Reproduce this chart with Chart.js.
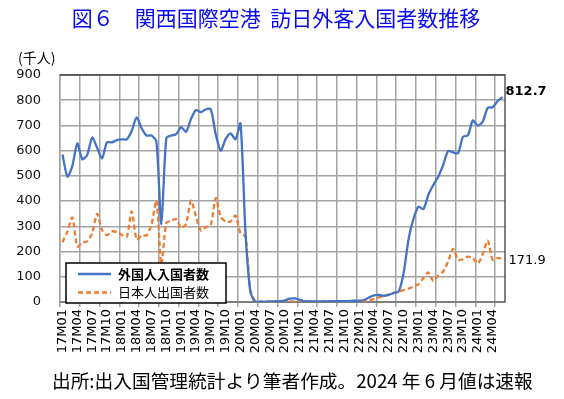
<!DOCTYPE html>
<html>
<head>
<meta charset="utf-8">
<script src="https://cdn.jsdelivr.net/npm/chart.js@4.4.1/dist/chart.umd.min.js"></script>
<style>
  html, body { margin: 0; padding: 0; background: #fff; }
</style>
</head>
<body>
<canvas id="kix" width="564" height="399"></canvas>
<script>
// --- data (thousand persons, monthly) ---
const months = [
  '17M01','17M02','17M03','17M04','17M05','17M06','17M07','17M08','17M09','17M10','17M11','17M12',
  '18M01','18M02','18M03','18M04','18M05','18M06','18M07','18M08','18M09','18M10','18M11','18M12',
  '19M01','19M02','19M03','19M04','19M05','19M06','19M07','19M08','19M09','19M10','19M11','19M12',
  '20M01','20M02','20M03','20M04','20M05','20M06','20M07','20M08','20M09','20M10','20M11','20M12',
  '21M01','21M02','21M03','21M04','21M05','21M06','21M07','21M08','21M09','21M10','21M11','21M12',
  '22M01','22M02','22M03','22M04','22M05','22M06','22M07','22M08','22M09','22M10','22M11','22M12',
  '23M01','23M02','23M03','23M04','23M05','23M06','23M07','23M08','23M09','23M10','23M11','23M12',
  '24M01','24M02','24M03','24M04','24M05','24M06'
];
const foreignArrivals = [
  585, 497, 540, 629, 566, 583, 652, 612, 570, 633, 633, 642,
  645, 645, 678, 732, 689, 660, 660, 636, 310, 649, 660, 666,
  693, 675, 726, 761, 753, 764, 764, 665, 600, 646, 668, 645,
  708, 280, 40, 1, 1, 1, 2, 2, 3, 6, 13, 14,
  8, 3, 2, 2, 2, 2, 3, 3, 3, 3, 4, 5,
  5, 8, 18, 26, 28, 24, 28, 36, 42, 115, 250, 330,
  378, 368, 425, 464, 497, 544, 599, 593, 590, 655, 661, 720,
  699, 715, 770, 772, 796, 812.7
];
const japaneseDepartures = [
  237, 280, 335, 220, 236, 240, 273, 350, 286, 265, 280, 277,
  266, 258, 359, 247, 264, 264, 306, 402, 150, 313, 323, 328,
  293, 310, 402, 339, 283, 297, 306, 412, 339, 319, 319, 343,
  273, 260, 50, 1, 1, 1, 1, 2, 2, 2, 2, 2,
  2, 1, 1, 1, 2, 2, 2, 2, 2, 2, 2, 2,
  2, 3, 6, 12, 18, 25, 30, 36, 42, 47, 53, 61,
  71, 95, 117, 84, 105, 121, 161, 211, 167, 170, 180, 174,
  152, 190, 243, 167, 174, 171.9
];
const seriesNames = ['外国人入国者数', '日本人出国者数'];
const chartTitle = '図６　関西国際空港  訪日外客入国者数推移';
const unitLabel = '(千人)';
const sourceNote = '出所:出入国管理統計より筆者作成。2024 年 6 月値は速報';

const BLUE = '#4472C4';
const ORANGE = '#ED7D31';
const GRID = '#a3a3a3';
const NUM_FONT = 'DejaVu Sans';
const JP_FONT = '"Noto Sans CJK JP"';

// title, unit, legend box, end labels, frame
const decor = {
  id: 'decor',
  afterDatasetsDraw(chart) {
    const { ctx, chartArea: a } = chart;
    ctx.save();
    // top / right frame
    ctx.strokeStyle = '#404040';
    ctx.lineWidth = 1.3;
    ctx.beginPath();
    ctx.moveTo(a.left, a.top);
    ctx.lineTo(a.right, a.top);
    ctx.lineTo(a.right, a.bottom);
    ctx.stroke();

    // legend inside plot
    const bx = a.left + 6, by = a.bottom - 39, bw = 160, bh = 40;
    ctx.fillStyle = '#fff';
    ctx.fillRect(bx, by, bw, bh);
    ctx.strokeStyle = '#000';
    ctx.lineWidth = 1.5;
    ctx.strokeRect(bx, by, bw, bh);
    chart.data.datasets.forEach((ds, i) => {
      const y = by + 11 + i * 18.5;
      ctx.strokeStyle = ds.borderColor;
      ctx.lineWidth = ds.borderWidth;
      ctx.setLineDash(ds.borderDash || []);
      ctx.beginPath();
      ctx.moveTo(bx + 12, y);
      ctx.lineTo(bx + 45, y);
      ctx.stroke();
      ctx.setLineDash([]);
      ctx.fillStyle = '#000';
      ctx.font = (i === 0 ? 'bold ' : '') + '13px ' + JP_FONT;
      ctx.textBaseline = 'middle';
      ctx.textAlign = 'left';
      ctx.fillText(ds.label, bx + 52, y);
    });

    // last-value labels
    chart.data.datasets.forEach((ds, i) => {
      const meta = chart.getDatasetMeta(i);
      const pt = meta.data[meta.data.length - 1];
      const v = ds.data[ds.data.length - 1];
      ctx.fillStyle = '#000';
      ctx.font = (i === 0 ? 'bold ' : '') + '13px ' + NUM_FONT;
      ctx.textAlign = 'left';
      ctx.textBaseline = 'middle';
      ctx.fillText(v.toFixed(1), pt.x + (i === 0 ? 3 : 6), pt.y + (i === 0 ? -5 : 2));
    });
    ctx.restore();
  },
  afterDraw(chart) {
    const { ctx } = chart;
    ctx.save();
    ctx.textBaseline = 'middle';
    ctx.fillStyle = '#0a0af0';
    ctx.font = '21px ' + JP_FONT;
    ctx.textAlign = 'center';
    ctx.fillText(chartTitle, 276, 18);
    ctx.fillStyle = '#000';
    ctx.font = '14px ' + JP_FONT;
    ctx.textAlign = 'left';
    ctx.fillText(unitLabel, 18, 58);
    ctx.font = '18.7px ' + JP_FONT;
    ctx.fillText(sourceNote, 52, 381);
    ctx.restore();
  }
};

new Chart(document.getElementById('kix'), {
  type: 'line',
  data: {
    labels: months,
    datasets: [
      { label: seriesNames[0], data: foreignArrivals, borderColor: BLUE, borderWidth: 2.3,
        pointRadius: 0, tension: 0.25, fill: false },
      { label: seriesNames[1], data: japaneseDepartures, borderColor: ORANGE, borderWidth: 2.3,
        borderDash: [5, 3], pointRadius: 0, tension: 0.25, fill: false }
    ]
  },
  options: {
    responsive: false,
    animation: false,
    layout: { padding: { left: 0, top: 75, right: 59, bottom: 37 } },
    plugins: { legend: { display: false }, tooltip: { enabled: false }, title: { display: false } },
    scales: {
      x: {
        offset: true,
        grid: {
          offset: true,
          color: c => (c.index % 4 === 0 ? GRID : 'rgba(0,0,0,0)'),
          lineWidth: 1.5,
          tickLength: 5
        },
        border: { color: '#7f7f7f', width: 2 },
        ticks: {
          autoSkip: false, minRotation: 90, maxRotation: 90, padding: 2,
          color: '#000', font: { family: NUM_FONT, size: 13 },
          callback: (v, i) => (i % 3 === 0 ? months[i] : '')
        },
        afterFit: s => { s.height = 60; }
      },
      y: {
        min: 0, max: 900,
        grid: { color: GRID, lineWidth: 1.5, drawTicks: false },
        border: { color: GRID, width: 1.5 },
        ticks: { stepSize: 100, padding: 19, color: '#111', font: { family: NUM_FONT, size: 13 } },
        afterFit: s => { s.width = 60; }
      }
    }
  },
  plugins: [decor]
});
</script>
</body>
</html>
